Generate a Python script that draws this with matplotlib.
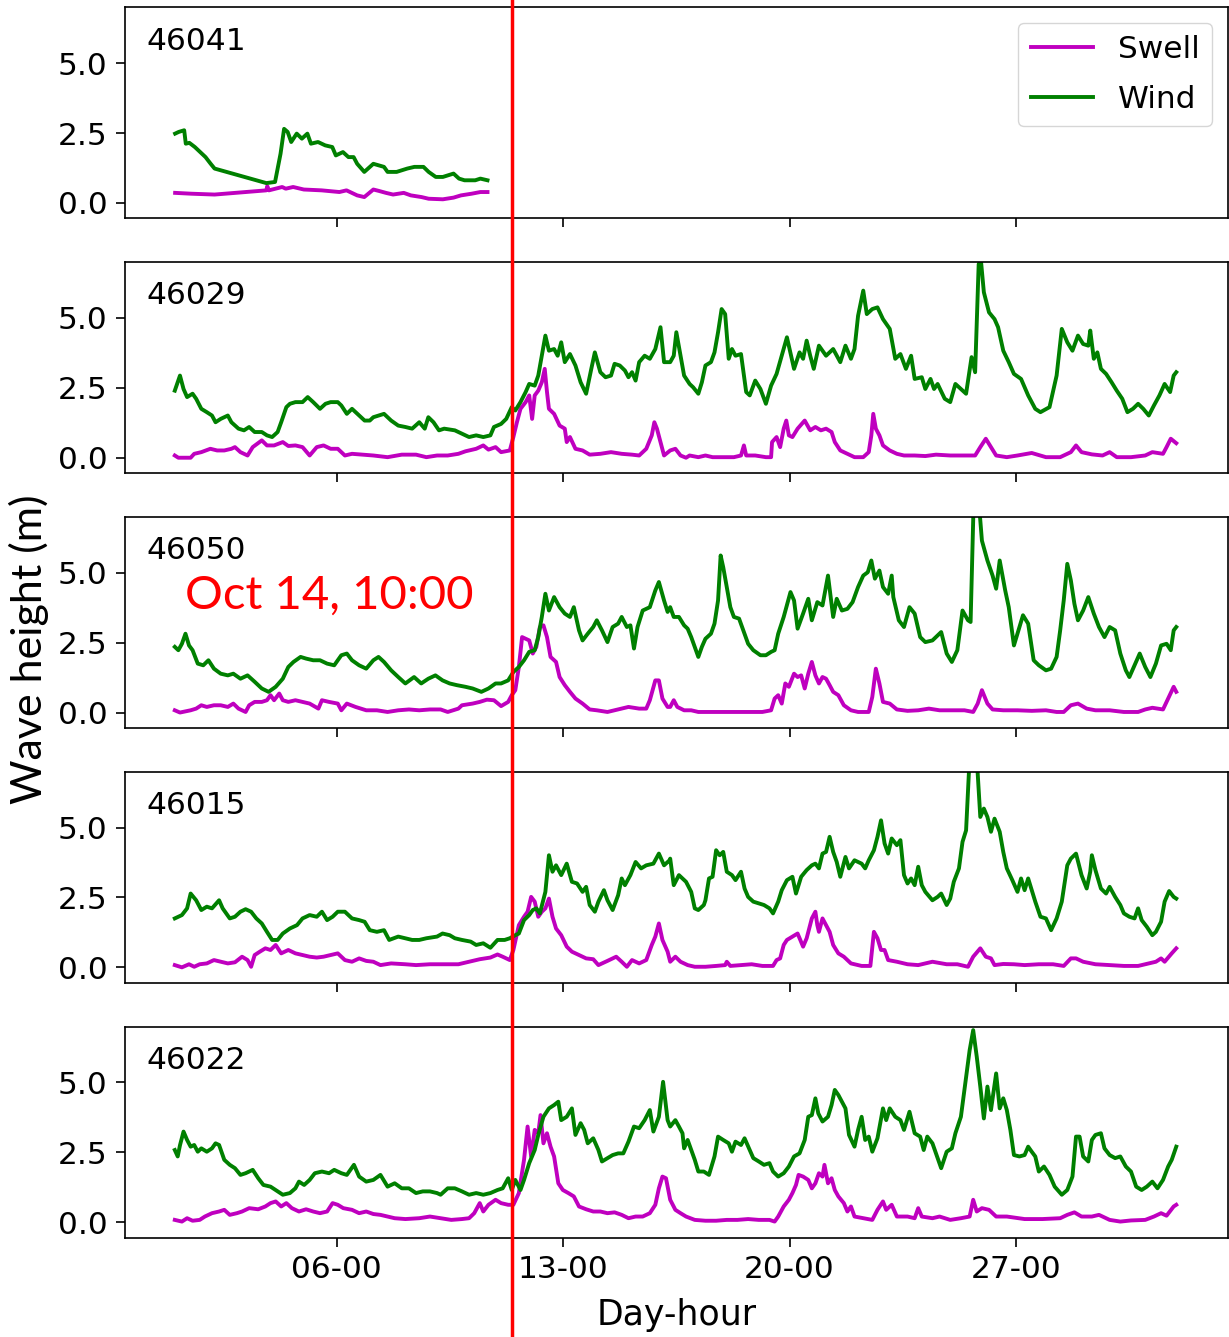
import matplotlib
matplotlib.use("Agg")
import matplotlib.pyplot as plt
from matplotlib.lines import Line2D
from matplotlib.transforms import blended_transform_factory

# ---------------------------------------------------------------------------
# Data: (day of month, significant wave height in m) for each buoy
# ---------------------------------------------------------------------------
stations = ["46041", "46029", "46050", "46015", "46022"]

swell_46041 = [(1.00, 0.36), (1.50, 0.33), (2.22, 0.30), (3.82, 0.45), (3.85, 0.60), (3.90, 0.45),
               (4.31, 0.57), (4.42, 0.51), (4.65, 0.57), (4.98, 0.48), (5.53, 0.45), (6.08, 0.39),
               (6.30, 0.45), (6.63, 0.27), (6.85, 0.21), (7.13, 0.48), (7.30, 0.43), (7.52, 0.36),
               (7.74, 0.30), (8.07, 0.36), (8.29, 0.27), (8.62, 0.21), (8.84, 0.15), (9.28, 0.13),
               (9.61, 0.19), (9.84, 0.27), (10.17, 0.33), (10.44, 0.39), (10.66, 0.39)]
wind_46041 = [(1.00, 2.48), (1.11, 2.54), (1.28, 2.60), (1.33, 2.12), (1.44, 2.15), (1.61, 2.00),
              (1.72, 1.88), (1.83, 1.76), (1.94, 1.64), (2.10, 1.40), (2.22, 1.23), (3.82, 0.71),
              (4.09, 0.75), (4.26, 1.76), (4.37, 2.65), (4.48, 2.54), (4.59, 2.18), (4.76, 2.48),
              (4.92, 2.30), (5.09, 2.48), (5.20, 2.12), (5.42, 2.18), (5.64, 2.06), (5.86, 2.00),
              (5.97, 1.70), (6.19, 1.82), (6.36, 1.64), (6.52, 1.64), (6.63, 1.40), (6.85, 1.11),
              (7.13, 1.40), (7.46, 1.29), (7.57, 1.11), (7.85, 1.11), (8.18, 1.23), (8.40, 1.29),
              (8.68, 1.29), (8.84, 1.11), (9.06, 0.93), (9.28, 0.93), (9.61, 1.05), (9.78, 0.87),
              (9.95, 0.81), (10.28, 0.81), (10.44, 0.87), (10.66, 0.81)]

swell_46029 = [(0.99, 0.08), (1.10, 0.00), (1.48, 0.00), (1.59, 0.14), (1.81, 0.20), (2.09, 0.32),
               (2.30, 0.26), (2.52, 0.26), (2.74, 0.32), (2.85, 0.38), (3.02, 0.20), (3.24, 0.08),
               (3.40, 0.38), (3.68, 0.62), (3.84, 0.44), (4.06, 0.44), (4.33, 0.56), (4.50, 0.42),
               (4.72, 0.44), (4.94, 0.38), (5.16, 0.08), (5.38, 0.38), (5.59, 0.44), (5.81, 0.32),
               (6.03, 0.32), (6.25, 0.08), (6.47, 0.14), (6.80, 0.11), (7.13, 0.08), (7.57, 0.02),
               (8.01, 0.11), (8.45, 0.11), (8.77, 0.02), (9.10, 0.08), (9.43, 0.08), (9.76, 0.14),
               (9.98, 0.23), (10.31, 0.32), (10.53, 0.44), (10.69, 0.29), (10.91, 0.38), (11.08, 0.20),
               (11.35, 0.26), (11.46, 0.74), (11.57, 1.27), (11.68, 1.75), (11.84, 1.99), (11.95, 2.23),
               (12.04, 1.39), (12.12, 2.23), (12.23, 2.40), (12.34, 2.70), (12.43, 3.18), (12.50, 2.35),
               (12.56, 1.75), (12.72, 1.57), (12.89, 1.15), (13.05, 1.04), (13.11, 0.56), (13.21, 0.74),
               (13.38, 0.32), (13.60, 0.26), (13.82, 0.11), (14.15, 0.14), (14.48, 0.20), (14.81, 0.14),
               (15.13, 0.11), (15.35, 0.08), (15.57, 0.32), (15.74, 0.80), (15.82, 1.27), (15.90, 1.04),
               (16.01, 0.56), (16.12, 0.08), (16.31, 0.26), (16.47, 0.32), (16.63, 0.08), (16.80, 0.00),
               (16.91, 0.08), (17.18, 0.02), (17.40, 0.08), (17.62, 0.02), (17.95, 0.02), (18.28, 0.02),
               (18.50, 0.08), (18.59, 0.44), (18.66, 0.08), (18.94, 0.08), (19.27, 0.02), (19.43, 0.02),
               (19.46, 0.56), (19.60, 0.74), (19.71, 0.38), (19.82, 1.04), (19.90, 1.33), (19.98, 0.80),
               (20.09, 0.74), (20.25, 1.04), (20.47, 1.33), (20.64, 0.98), (20.80, 1.10), (20.97, 0.98),
               (21.13, 1.04), (21.30, 0.92), (21.40, 0.56), (21.57, 0.26), (21.79, 0.14), (22.01, 0.02),
               (22.28, 0.02), (22.45, 0.20), (22.53, 0.80), (22.59, 1.57), (22.67, 1.04), (22.78, 0.80),
               (22.89, 0.44), (23.10, 0.26), (23.32, 0.14), (23.54, 0.08), (23.87, 0.08), (24.20, 0.06),
               (24.53, 0.11), (24.97, 0.08), (25.41, 0.08), (25.74, 0.08), (25.90, 0.38), (26.07, 0.68),
               (26.23, 0.38), (26.39, 0.08), (26.72, 0.02), (27.05, 0.08), (27.49, 0.17), (27.93, 0.02),
               (28.37, 0.02), (28.70, 0.20), (28.86, 0.44), (29.03, 0.20), (29.35, 0.12), (29.68, 0.08),
               (29.90, 0.20), (30.12, 0.02), (30.56, 0.02), (31.00, 0.08), (31.22, 0.20), (31.55, 0.14),
               (31.66, 0.38), (31.79, 0.68), (31.96, 0.52)]
wind_46029 = [(0.99, 2.40), (1.15, 2.94), (1.26, 2.46), (1.37, 2.17), (1.54, 2.29), (1.65, 2.11),
              (1.81, 1.75), (1.98, 1.63), (2.14, 1.51), (2.25, 1.27), (2.41, 1.39), (2.63, 1.51),
              (2.74, 1.27), (2.96, 1.04), (3.13, 0.98), (3.29, 1.10), (3.46, 0.92), (3.68, 0.92),
              (3.84, 0.80), (4.00, 0.74), (4.17, 0.92), (4.28, 1.27), (4.44, 1.81), (4.55, 1.93),
              (4.72, 1.99), (4.94, 1.99), (5.10, 2.17), (5.27, 1.99), (5.48, 1.75), (5.65, 1.93),
              (5.81, 1.99), (6.03, 1.99), (6.14, 1.87), (6.31, 1.57), (6.47, 1.75), (6.69, 1.51),
              (6.86, 1.33), (7.02, 1.33), (7.13, 1.45), (7.46, 1.57), (7.68, 1.33), (7.90, 1.15),
              (8.12, 1.10), (8.33, 1.04), (8.55, 1.27), (8.72, 1.04), (8.83, 1.45), (8.99, 1.27),
              (9.16, 0.98), (9.32, 1.04), (9.65, 0.98), (9.87, 0.86), (10.09, 0.74), (10.31, 0.80),
              (10.53, 0.74), (10.75, 0.80), (10.86, 1.10), (11.08, 1.21), (11.24, 1.39), (11.41, 1.81),
              (11.52, 1.69), (11.68, 1.99), (11.84, 2.35), (11.95, 2.64), (12.12, 2.58), (12.23, 2.94),
              (12.34, 3.65), (12.45, 4.37), (12.56, 3.83), (12.72, 3.89), (12.83, 3.65), (12.94, 4.13),
              (13.05, 3.42), (13.21, 3.71), (13.38, 3.30), (13.54, 2.70), (13.71, 2.29), (13.87, 3.18),
              (13.98, 3.77), (14.15, 3.06), (14.31, 2.88), (14.48, 2.94), (14.59, 3.36), (14.75, 3.30),
              (14.91, 3.12), (15.02, 2.88), (15.13, 3.06), (15.24, 2.76), (15.35, 3.42), (15.52, 3.65),
              (15.68, 3.54), (15.85, 3.89), (16.01, 4.67), (16.12, 3.42), (16.23, 3.42), (16.31, 3.42),
              (16.42, 3.65), (16.50, 4.49), (16.63, 3.65), (16.74, 2.94), (16.91, 2.64), (17.02, 2.52),
              (17.18, 2.29), (17.29, 2.70), (17.40, 3.30), (17.57, 3.42), (17.68, 3.77), (17.79, 4.49),
              (17.90, 5.32), (18.01, 5.14), (18.12, 3.54), (18.22, 3.89), (18.33, 3.65), (18.50, 3.71),
              (18.66, 2.35), (18.77, 2.23), (18.94, 2.76), (19.10, 2.46), (19.27, 1.93), (19.43, 2.58),
              (19.60, 3.00), (19.76, 3.65), (19.92, 4.31), (20.14, 3.18), (20.31, 3.77), (20.42, 3.54),
              (20.53, 4.19), (20.64, 3.65), (20.75, 3.18), (20.91, 4.01), (21.13, 3.65), (21.35, 3.89),
              (21.57, 3.42), (21.73, 4.01), (21.90, 3.54), (22.01, 3.89), (22.12, 5.08), (22.28, 5.98),
              (22.39, 5.14), (22.56, 5.32), (22.72, 5.38), (22.89, 4.96), (23.10, 4.61), (23.27, 3.54),
              (23.43, 3.71), (23.60, 3.18), (23.76, 3.65), (23.87, 2.82), (24.09, 2.88), (24.20, 2.46),
              (24.36, 2.82), (24.47, 2.46), (24.58, 2.64), (24.80, 2.11), (24.97, 1.99), (25.13, 2.64),
              (25.30, 2.46), (25.46, 2.29), (25.63, 3.60), (25.74, 3.06), (25.85, 6.93), (25.92, 7.05),
              (26.01, 5.92), (26.17, 5.20), (26.34, 4.96), (26.45, 4.67), (26.61, 3.83), (26.78, 3.42),
              (26.94, 3.00), (27.16, 2.82), (27.38, 2.23), (27.60, 1.75), (27.76, 1.63), (28.04, 1.81),
              (28.26, 2.94), (28.42, 4.61), (28.59, 4.13), (28.75, 3.83), (28.92, 4.37), (29.08, 4.07),
              (29.24, 4.01), (29.30, 4.55), (29.41, 3.54), (29.52, 3.77), (29.63, 3.18), (29.79, 3.00),
              (29.96, 2.70), (30.12, 2.40), (30.29, 2.11), (30.45, 1.63), (30.62, 1.75), (30.78, 1.93),
              (30.94, 1.75), (31.11, 1.51), (31.27, 1.87), (31.44, 2.23), (31.60, 2.64), (31.77, 2.35),
              (31.88, 2.94), (31.96, 3.06)]

swell_46050 = [(0.99, 0.08), (1.15, 0.00), (1.48, 0.08), (1.65, 0.14), (1.81, 0.26), (1.98, 0.20),
               (2.20, 0.26), (2.41, 0.26), (2.63, 0.20), (2.80, 0.32), (2.96, 0.14), (3.18, 0.02),
               (3.29, 0.26), (3.46, 0.38), (3.68, 0.38), (3.84, 0.44), (3.95, 0.62), (4.06, 0.44),
               (4.22, 0.68), (4.33, 0.44), (4.50, 0.38), (4.72, 0.44), (4.94, 0.38), (5.16, 0.32),
               (5.43, 0.14), (5.54, 0.44), (5.76, 0.38), (6.03, 0.32), (6.14, 0.08), (6.31, 0.32),
               (6.58, 0.20), (6.91, 0.08), (7.24, 0.08), (7.57, 0.02), (7.90, 0.08), (8.23, 0.11),
               (8.55, 0.08), (8.88, 0.11), (9.21, 0.11), (9.43, 0.02), (9.76, 0.14), (9.87, 0.26),
               (10.20, 0.32), (10.42, 0.38), (10.64, 0.46), (10.86, 0.44), (11.08, 0.23), (11.30, 0.38),
               (11.41, 0.62), (11.52, 0.80), (11.63, 1.63), (11.73, 2.70), (11.84, 2.64), (11.95, 2.58),
               (12.06, 2.11), (12.17, 2.35), (12.28, 3.06), (12.39, 3.12), (12.50, 2.70), (12.61, 1.99),
               (12.78, 1.81), (12.89, 1.27), (13.05, 0.98), (13.21, 0.74), (13.38, 0.50), (13.60, 0.32),
               (13.82, 0.11), (14.04, 0.08), (14.37, 0.02), (14.70, 0.11), (15.02, 0.20), (15.35, 0.14),
               (15.57, 0.14), (15.68, 0.44), (15.85, 1.15), (15.96, 1.15), (16.07, 0.50), (16.23, 0.20),
               (16.31, 0.20), (16.42, 0.44), (16.53, 0.20), (16.74, 0.08), (16.96, 0.08), (17.18, 0.02),
               (17.40, 0.02), (17.73, 0.02), (18.06, 0.02), (18.39, 0.02), (18.72, 0.02), (19.16, 0.02),
               (19.43, 0.08), (19.54, 0.50), (19.65, 0.62), (19.76, 0.32), (19.87, 1.04), (19.98, 0.92),
               (20.14, 1.39), (20.25, 1.27), (20.36, 1.33), (20.47, 0.86), (20.58, 1.39), (20.69, 1.81),
               (20.80, 1.33), (20.91, 1.04), (21.02, 1.27), (21.13, 1.21), (21.24, 0.98), (21.35, 0.74),
               (21.51, 0.62), (21.68, 0.26), (21.90, 0.08), (22.12, 0.02), (22.45, 0.02), (22.56, 0.56),
               (22.67, 1.57), (22.78, 1.04), (22.89, 0.38), (23.10, 0.32), (23.32, 0.11), (23.65, 0.06),
               (23.98, 0.08), (24.31, 0.14), (24.64, 0.08), (24.97, 0.08), (25.41, 0.08), (25.68, 0.02),
               (25.82, 0.32), (25.95, 0.80), (26.12, 0.32), (26.28, 0.11), (26.61, 0.08), (27.05, 0.08),
               (27.49, 0.06), (27.93, 0.08), (28.26, 0.02), (28.48, 0.02), (28.70, 0.26), (28.92, 0.32),
               (29.19, 0.14), (29.46, 0.08), (29.90, 0.08), (30.34, 0.02), (30.78, 0.02), (31.00, 0.11),
               (31.22, 0.17), (31.55, 0.11), (31.71, 0.50), (31.88, 0.92), (31.96, 0.74)]
wind_46050 = [(0.99, 2.35), (1.10, 2.23), (1.21, 2.46), (1.32, 2.82), (1.43, 2.40), (1.54, 2.23),
              (1.70, 1.75), (1.87, 1.69), (2.03, 1.87), (2.20, 1.57), (2.41, 1.39), (2.63, 1.33),
              (2.80, 1.39), (3.02, 1.21), (3.24, 1.33), (3.46, 1.10), (3.68, 0.86), (3.89, 0.74),
              (4.11, 0.92), (4.33, 1.21), (4.50, 1.63), (4.66, 1.81), (4.88, 1.99), (5.05, 1.93),
              (5.27, 1.87), (5.48, 1.87), (5.70, 1.75), (5.92, 1.69), (6.14, 2.05), (6.31, 2.11),
              (6.47, 1.87), (6.69, 1.69), (6.91, 1.57), (7.13, 1.87), (7.29, 1.99), (7.46, 1.81),
              (7.68, 1.51), (7.90, 1.27), (8.12, 1.04), (8.39, 1.27), (8.61, 1.04), (8.83, 1.21),
              (9.05, 1.33), (9.27, 1.15), (9.49, 1.04), (9.71, 0.98), (9.98, 0.92), (10.20, 0.86),
              (10.47, 0.74), (10.69, 0.86), (10.91, 1.04), (11.08, 1.04), (11.30, 1.15), (11.46, 1.45),
              (11.63, 1.63), (11.79, 1.87), (11.95, 2.17), (12.12, 2.23), (12.23, 2.70), (12.34, 3.42),
              (12.45, 4.25), (12.56, 3.65), (12.72, 4.13), (12.89, 3.77), (13.05, 3.54), (13.21, 3.42),
              (13.33, 3.77), (13.49, 2.94), (13.60, 2.58), (13.76, 2.82), (13.93, 3.06), (14.04, 3.30),
              (14.20, 2.94), (14.37, 2.52), (14.53, 3.06), (14.70, 3.18), (14.81, 3.42), (14.97, 3.06),
              (15.08, 3.12), (15.19, 2.29), (15.30, 3.06), (15.46, 3.65), (15.68, 3.77), (15.85, 4.37),
              (15.96, 4.67), (16.12, 4.01), (16.23, 3.60), (16.31, 3.77), (16.42, 3.42), (16.58, 3.42),
              (16.74, 3.12), (16.85, 3.00), (16.96, 2.70), (17.07, 2.35), (17.18, 1.99), (17.29, 2.35),
              (17.40, 2.64), (17.57, 2.82), (17.68, 3.18), (17.79, 4.01), (17.87, 5.62), (17.95, 5.20),
              (18.06, 4.49), (18.17, 3.77), (18.28, 3.42), (18.44, 3.36), (18.61, 2.82), (18.72, 2.46),
              (18.88, 2.23), (19.10, 2.05), (19.27, 2.05), (19.43, 2.17), (19.54, 2.23), (19.65, 2.82),
              (19.82, 3.42), (20.03, 4.31), (20.14, 4.01), (20.25, 3.00), (20.42, 3.54), (20.58, 4.07),
              (20.69, 3.30), (20.86, 3.95), (21.02, 3.83), (21.19, 4.90), (21.35, 3.42), (21.46, 4.07),
              (21.62, 3.65), (21.79, 3.71), (21.95, 3.95), (22.12, 4.49), (22.28, 4.90), (22.42, 5.02),
              (22.53, 5.44), (22.64, 4.79), (22.78, 5.08), (22.89, 4.49), (23.05, 4.25), (23.16, 4.90),
              (23.21, 4.13), (23.38, 3.30), (23.54, 3.06), (23.71, 3.77), (23.87, 3.54), (24.04, 2.70),
              (24.20, 2.52), (24.42, 2.58), (24.69, 2.88), (24.86, 2.11), (25.02, 1.81), (25.19, 2.23),
              (25.35, 3.65), (25.52, 3.30), (25.60, 3.24), (25.70, 7.80), (25.85, 7.60), (25.95, 6.15),
              (26.12, 5.44), (26.28, 4.90), (26.39, 4.43), (26.50, 5.44), (26.67, 4.37), (26.78, 3.77),
              (26.94, 2.40), (27.11, 3.06), (27.22, 3.48), (27.38, 3.18), (27.55, 1.87), (27.71, 1.69),
              (27.93, 1.51), (28.09, 1.57), (28.26, 1.99), (28.37, 2.94), (28.48, 4.01), (28.59, 5.32),
              (28.70, 4.73), (28.81, 3.89), (28.92, 3.30), (29.08, 3.65), (29.24, 4.13), (29.41, 3.54),
              (29.57, 3.06), (29.74, 2.70), (29.90, 3.06), (30.07, 2.94), (30.23, 2.11), (30.40, 1.51),
              (30.51, 1.27), (30.67, 1.69), (30.83, 2.11), (31.00, 1.63), (31.16, 1.27), (31.33, 1.75),
              (31.49, 2.40), (31.66, 2.46), (31.79, 2.23), (31.88, 2.94), (31.96, 3.06)]

swell_46015 = [(0.99, 0.08), (1.21, 0.00), (1.43, 0.11), (1.59, 0.02), (1.76, 0.11), (1.98, 0.14),
               (2.20, 0.26), (2.41, 0.20), (2.63, 0.14), (2.85, 0.18), (3.07, 0.38), (3.24, 0.26),
               (3.35, 0.02), (3.46, 0.44), (3.62, 0.56), (3.79, 0.68), (3.95, 0.62), (4.11, 0.80),
               (4.28, 0.50), (4.50, 0.62), (4.72, 0.50), (4.94, 0.44), (5.16, 0.38), (5.38, 0.35),
               (5.59, 0.38), (5.81, 0.44), (6.03, 0.50), (6.25, 0.26), (6.47, 0.20), (6.69, 0.32),
               (6.91, 0.23), (7.13, 0.20), (7.35, 0.08), (7.68, 0.14), (8.12, 0.11), (8.45, 0.08),
               (8.88, 0.11), (9.32, 0.11), (9.76, 0.11), (10.09, 0.20), (10.42, 0.29), (10.75, 0.35),
               (10.97, 0.46), (11.13, 0.38), (11.35, 0.26), (11.46, 0.62), (11.63, 1.51), (11.79, 1.81),
               (11.90, 1.99), (12.01, 2.52), (12.12, 2.35), (12.23, 1.81), (12.34, 1.99), (12.45, 2.11),
               (12.56, 2.46), (12.67, 1.81), (12.78, 1.39), (12.94, 1.15), (13.11, 0.74), (13.27, 0.56),
               (13.49, 0.44), (13.71, 0.32), (13.93, 0.29), (14.09, 0.08), (14.37, 0.23), (14.64, 0.38),
               (14.81, 0.20), (14.97, 0.02), (15.13, 0.26), (15.35, 0.14), (15.57, 0.26), (15.74, 0.80),
               (15.85, 1.10), (15.96, 1.57), (16.07, 0.98), (16.23, 0.56), (16.31, 0.20), (16.47, 0.38),
               (16.63, 0.20), (16.85, 0.08), (17.07, 0.02), (17.40, 0.02), (17.73, 0.05), (18.01, 0.08),
               (18.06, 0.20), (18.17, 0.05), (18.50, 0.08), (18.83, 0.11), (19.16, 0.05), (19.49, 0.05),
               (19.60, 0.26), (19.71, 0.32), (19.82, 0.80), (19.92, 0.98), (20.09, 1.10), (20.25, 1.21),
               (20.42, 0.74), (20.53, 1.04), (20.69, 1.75), (20.80, 1.99), (20.86, 1.51), (20.91, 1.27),
               (21.02, 1.75), (21.13, 1.51), (21.24, 1.27), (21.35, 0.80), (21.51, 0.50), (21.68, 0.38),
               (21.90, 0.14), (22.23, 0.05), (22.50, 0.05), (22.61, 1.27), (22.72, 1.04), (22.83, 0.62),
               (22.94, 0.62), (23.05, 0.26), (23.32, 0.20), (23.65, 0.11), (23.98, 0.08), (24.42, 0.20),
               (24.86, 0.11), (25.19, 0.11), (25.52, 0.02), (25.68, 0.38), (25.90, 0.68), (26.07, 0.38),
               (26.23, 0.32), (26.34, 0.08), (26.61, 0.12), (26.94, 0.11), (27.27, 0.08), (27.71, 0.11),
               (28.15, 0.11), (28.48, 0.05), (28.70, 0.32), (28.86, 0.32), (29.08, 0.20), (29.46, 0.11),
               (29.90, 0.08), (30.34, 0.05), (30.78, 0.05), (31.11, 0.14), (31.33, 0.20), (31.49, 0.32),
               (31.60, 0.20), (31.82, 0.50), (31.96, 0.68)]
wind_46015 = [(0.99, 1.75), (1.21, 1.87), (1.37, 2.11), (1.48, 2.64), (1.65, 2.40), (1.81, 2.05),
              (1.98, 2.17), (2.14, 2.11), (2.36, 2.40), (2.47, 2.11), (2.69, 1.75), (2.85, 1.81),
              (3.02, 1.99), (3.18, 2.08), (3.35, 1.99), (3.51, 1.75), (3.68, 1.57), (3.84, 1.27),
              (4.00, 0.98), (4.17, 0.98), (4.33, 1.21), (4.55, 1.39), (4.77, 1.51), (4.94, 1.75),
              (5.16, 1.87), (5.38, 1.81), (5.54, 1.99), (5.70, 1.69), (5.87, 1.81), (6.03, 1.99),
              (6.25, 1.99), (6.47, 1.75), (6.69, 1.69), (6.86, 1.63), (7.02, 1.33), (7.24, 1.27),
              (7.46, 1.33), (7.62, 0.98), (7.90, 1.10), (8.12, 1.04), (8.33, 0.98), (8.55, 0.98),
              (8.77, 1.04), (9.10, 1.10), (9.27, 1.21), (9.49, 1.15), (9.65, 1.04), (9.87, 0.98),
              (10.14, 0.92), (10.31, 0.80), (10.53, 0.86), (10.75, 0.70), (10.97, 0.98), (11.19, 0.98),
              (11.35, 1.04), (11.52, 1.15), (11.63, 1.21), (11.79, 1.69), (11.95, 1.87), (12.06, 2.05),
              (12.17, 2.11), (12.28, 1.93), (12.45, 2.70), (12.56, 4.01), (12.67, 3.42), (12.78, 3.65),
              (12.94, 3.30), (13.11, 3.71), (13.27, 3.06), (13.43, 3.00), (13.60, 2.70), (13.71, 2.88),
              (13.82, 2.23), (13.98, 1.99), (14.09, 2.35), (14.26, 2.76), (14.37, 2.40), (14.53, 2.05),
              (14.70, 2.58), (14.81, 3.18), (14.91, 2.94), (15.08, 3.30), (15.24, 3.77), (15.41, 3.54),
              (15.57, 3.65), (15.79, 3.71), (15.96, 4.07), (16.12, 3.65), (16.29, 3.83), (16.31, 3.89),
              (16.42, 2.94), (16.58, 3.30), (16.69, 3.18), (16.80, 3.06), (16.96, 2.70), (17.07, 2.11),
              (17.18, 2.05), (17.35, 2.23), (17.40, 2.40), (17.51, 3.18), (17.62, 3.24), (17.73, 4.19),
              (17.84, 4.01), (17.95, 4.13), (18.06, 3.42), (18.22, 3.30), (18.33, 3.12), (18.50, 3.42),
              (18.61, 2.82), (18.72, 2.52), (18.88, 2.35), (19.05, 2.29), (19.21, 2.23), (19.38, 2.11),
              (19.49, 1.93), (19.65, 2.35), (19.76, 2.76), (19.92, 3.12), (20.09, 3.24), (20.20, 2.64),
              (20.36, 3.24), (20.53, 3.48), (20.69, 3.65), (20.80, 3.71), (20.91, 3.54), (21.02, 4.07),
              (21.13, 4.13), (21.24, 4.67), (21.35, 4.13), (21.46, 3.77), (21.57, 3.24), (21.73, 3.95),
              (21.84, 3.54), (22.01, 3.83), (22.23, 3.71), (22.34, 3.54), (22.45, 3.83), (22.61, 4.19),
              (22.72, 4.67), (22.83, 5.26), (22.94, 4.43), (23.05, 4.07), (23.16, 4.61), (23.32, 4.37),
              (23.43, 4.55), (23.54, 3.30), (23.65, 3.00), (23.76, 3.18), (23.87, 2.94), (23.98, 3.60),
              (24.09, 2.94), (24.20, 2.70), (24.42, 2.40), (24.58, 2.52), (24.69, 2.64), (24.86, 2.23),
              (24.97, 2.46), (25.08, 3.06), (25.24, 3.54), (25.35, 4.49), (25.46, 4.90), (25.57, 7.50),
              (25.79, 7.50), (25.90, 5.38), (26.01, 5.68), (26.12, 5.38), (26.23, 4.85), (26.34, 5.32),
              (26.50, 4.85), (26.61, 4.13), (26.72, 3.54), (26.89, 3.12), (27.05, 2.70), (27.16, 3.18),
              (27.27, 2.76), (27.38, 3.18), (27.49, 2.76), (27.60, 2.35), (27.76, 1.81), (27.93, 1.75),
              (28.09, 1.33), (28.26, 1.75), (28.42, 2.35), (28.59, 3.65), (28.70, 3.89), (28.86, 4.07),
              (29.03, 3.30), (29.19, 2.82), (29.30, 3.42), (29.35, 4.01), (29.46, 3.48), (29.63, 2.82),
              (29.79, 2.64), (29.90, 2.88), (30.07, 2.52), (30.23, 2.23), (30.34, 1.93), (30.51, 1.81),
              (30.67, 1.75), (30.78, 2.11), (30.89, 1.69), (31.05, 1.45), (31.22, 1.15), (31.33, 1.27),
              (31.49, 1.63), (31.60, 2.35), (31.74, 2.73), (31.88, 2.52), (31.96, 2.46)]

swell_46022 = [(0.99, 0.08), (1.21, 0.02), (1.37, 0.14), (1.54, 0.05), (1.76, 0.08), (1.92, 0.20),
               (2.14, 0.32), (2.36, 0.38), (2.52, 0.44), (2.69, 0.26), (2.91, 0.32), (3.07, 0.38),
               (3.29, 0.50), (3.57, 0.46), (3.79, 0.56), (3.95, 0.68), (4.11, 0.74), (4.28, 0.56),
               (4.44, 0.68), (4.61, 0.50), (4.83, 0.38), (5.05, 0.46), (5.27, 0.38), (5.48, 0.32),
               (5.70, 0.38), (5.87, 0.68), (6.03, 0.62), (6.20, 0.50), (6.47, 0.44), (6.69, 0.32),
               (6.91, 0.38), (7.13, 0.29), (7.35, 0.26), (7.57, 0.20), (7.79, 0.14), (8.12, 0.11),
               (8.55, 0.14), (8.88, 0.20), (9.21, 0.14), (9.54, 0.08), (9.87, 0.11), (10.09, 0.14),
               (10.25, 0.32), (10.42, 0.68), (10.53, 0.38), (10.69, 0.62), (10.91, 0.80), (11.08, 0.68),
               (11.30, 0.62), (11.46, 0.62), (11.63, 1.04), (11.79, 2.23), (11.90, 3.42), (12.01, 2.35),
               (12.12, 3.30), (12.23, 3.18), (12.30, 3.83), (12.39, 2.82), (12.50, 3.18), (12.61, 2.70),
               (12.72, 2.35), (12.85, 1.39), (12.99, 1.15), (13.16, 1.04), (13.33, 0.92), (13.49, 0.56),
               (13.71, 0.46), (13.93, 0.38), (14.15, 0.38), (14.37, 0.32), (14.59, 0.35), (14.81, 0.26),
               (15.02, 0.14), (15.24, 0.20), (15.46, 0.20), (15.68, 0.32), (15.85, 0.62), (15.96, 1.21),
               (16.07, 1.63), (16.18, 1.57), (16.29, 0.92), (16.31, 0.80), (16.47, 0.44), (16.63, 0.32),
               (16.80, 0.20), (17.07, 0.08), (17.40, 0.05), (17.73, 0.05), (18.06, 0.08), (18.39, 0.08),
               (18.72, 0.11), (19.05, 0.08), (19.38, 0.08), (19.54, 0.02), (19.65, 0.20), (19.82, 0.56),
               (19.98, 0.80), (20.09, 1.04), (20.20, 1.33), (20.28, 1.69), (20.42, 1.63), (20.58, 1.51),
               (20.69, 1.21), (20.80, 1.39), (20.91, 1.75), (21.02, 1.63), (21.08, 2.05), (21.19, 1.39),
               (21.30, 1.57), (21.40, 1.15), (21.51, 0.92), (21.68, 0.68), (21.79, 0.38), (21.90, 0.56),
               (22.01, 0.20), (22.28, 0.14), (22.56, 0.08), (22.72, 0.44), (22.89, 0.74), (22.99, 0.44),
               (23.16, 0.62), (23.32, 0.20), (23.65, 0.20), (23.87, 0.14), (23.98, 0.50), (24.09, 0.20),
               (24.42, 0.14), (24.64, 0.20), (24.97, 0.08), (25.30, 0.14), (25.57, 0.20), (25.68, 0.80),
               (25.79, 0.38), (25.95, 0.50), (26.17, 0.44), (26.39, 0.20), (26.72, 0.20), (27.27, 0.11),
               (27.82, 0.11), (28.37, 0.14), (28.59, 0.26), (28.81, 0.35), (29.03, 0.20), (29.35, 0.20),
               (29.57, 0.26), (29.90, 0.08), (30.23, 0.02), (30.56, 0.06), (31.00, 0.08), (31.27, 0.20),
               (31.49, 0.32), (31.66, 0.23), (31.88, 0.56), (31.96, 0.62)]
wind_46022 = [(0.99, 2.58), (1.08, 2.35), (1.15, 2.75), (1.26, 3.24), (1.37, 2.94), (1.48, 2.70),
              (1.59, 2.76), (1.70, 2.52), (1.81, 2.64), (1.98, 2.52), (2.14, 2.64), (2.25, 2.82),
              (2.36, 2.76), (2.52, 2.23), (2.69, 2.05), (2.85, 1.93), (3.02, 1.69), (3.18, 1.75),
              (3.40, 1.87), (3.57, 1.57), (3.73, 1.33), (3.95, 1.27), (4.17, 1.10), (4.33, 0.98),
              (4.55, 1.04), (4.72, 1.21), (4.83, 1.45), (4.99, 1.33), (5.16, 1.51), (5.32, 1.75),
              (5.54, 1.81), (5.76, 1.75), (5.92, 1.87), (6.14, 1.75), (6.31, 1.69), (6.53, 2.05),
              (6.69, 1.63), (6.91, 1.45), (7.13, 1.51), (7.35, 1.69), (7.57, 1.27), (7.79, 1.39),
              (8.01, 1.21), (8.23, 1.21), (8.45, 1.04), (8.66, 1.10), (8.88, 1.10), (9.10, 1.04),
              (9.21, 0.98), (9.43, 1.21), (9.65, 1.21), (9.87, 1.10), (10.09, 0.98), (10.31, 1.04),
              (10.53, 0.98), (10.75, 1.04), (10.97, 1.15), (11.13, 1.21), (11.30, 1.57), (11.41, 1.15),
              (11.52, 1.51), (11.68, 1.15), (11.79, 1.51), (11.95, 2.11), (12.12, 2.58), (12.23, 3.12),
              (12.39, 3.77), (12.56, 4.07), (12.72, 4.19), (12.85, 4.31), (12.94, 3.65), (13.11, 3.77),
              (13.27, 4.07), (13.38, 3.12), (13.54, 3.54), (13.65, 3.30), (13.76, 2.82), (13.93, 3.00),
              (14.09, 2.58), (14.20, 2.17), (14.37, 2.29), (14.53, 2.40), (14.70, 2.46), (14.86, 2.46),
              (15.02, 2.88), (15.19, 3.42), (15.35, 3.36), (15.52, 3.65), (15.68, 4.01), (15.79, 3.24),
              (15.96, 3.77), (16.09, 5.02), (16.23, 3.65), (16.31, 3.42), (16.47, 3.65), (16.58, 3.42),
              (16.69, 3.18), (16.74, 2.64), (16.85, 2.94), (16.96, 2.58), (17.07, 2.23), (17.18, 1.81),
              (17.35, 1.81), (17.51, 1.69), (17.68, 2.35), (17.79, 3.06), (17.95, 2.94), (18.12, 2.82),
              (18.22, 2.52), (18.33, 2.88), (18.50, 2.76), (18.61, 3.00), (18.77, 2.58), (18.88, 2.29),
              (19.05, 2.17), (19.21, 2.05), (19.38, 2.11), (19.49, 1.81), (19.65, 1.63), (19.82, 1.75),
              (19.98, 1.99), (20.14, 2.35), (20.31, 2.46), (20.47, 2.94), (20.58, 3.77), (20.69, 3.83),
              (20.80, 4.43), (20.89, 3.89), (21.02, 3.60), (21.19, 3.77), (21.30, 4.19), (21.40, 4.73),
              (21.51, 4.55), (21.62, 4.31), (21.73, 4.07), (21.84, 3.12), (22.01, 2.70), (22.12, 3.30),
              (22.23, 3.77), (22.34, 2.94), (22.45, 3.06), (22.56, 2.52), (22.72, 3.00), (22.89, 4.07),
              (22.99, 3.65), (23.10, 4.07), (23.27, 3.77), (23.43, 3.65), (23.54, 3.30), (23.71, 3.95),
              (23.87, 3.18), (24.04, 3.06), (24.15, 2.58), (24.26, 3.06), (24.42, 2.82), (24.58, 2.29),
              (24.69, 1.93), (24.86, 2.52), (25.02, 2.64), (25.13, 3.18), (25.30, 3.77), (25.41, 4.73),
              (25.57, 6.15), (25.68, 6.87), (25.79, 5.92), (25.90, 4.85), (26.01, 3.71), (26.12, 4.85),
              (26.23, 4.01), (26.34, 4.90), (26.39, 5.32), (26.50, 4.07), (26.61, 4.43), (26.72, 4.01),
              (26.83, 3.30), (26.94, 2.40), (27.11, 2.35), (27.27, 2.40), (27.38, 2.70), (27.49, 2.52),
              (27.60, 2.35), (27.71, 1.81), (27.87, 1.99), (28.04, 1.69), (28.20, 1.27), (28.42, 0.98),
              (28.59, 1.15), (28.75, 1.63), (28.86, 3.06), (28.97, 3.06), (29.08, 2.35), (29.24, 2.17),
              (29.35, 2.94), (29.46, 3.12), (29.63, 3.18), (29.74, 2.64), (29.90, 2.40), (30.07, 2.29),
              (30.23, 2.35), (30.40, 1.99), (30.56, 1.81), (30.72, 1.27), (30.89, 1.15), (31.05, 1.27),
              (31.22, 1.45), (31.38, 1.21), (31.55, 1.51), (31.71, 1.99), (31.82, 2.23), (31.96, 2.70)]

tick_days = [6, 13, 20, 27]
tick_labels = ["06-00", "13-00", "20-00", "27-00"]
y_ticks = [0.0, 2.5, 5.0]
event_day = 11 + 10 / 24
event_label = "Oct 14, 10:00"

swell_series = [swell_46041, swell_46029, swell_46050, swell_46015, swell_46022]
wind_series = [wind_46041, wind_46029, wind_46050, wind_46015, wind_46022]

# ---------------------------------------------------------------------------
# Figure layout
# ---------------------------------------------------------------------------
plt.rcParams["font.family"] = "DejaVu Sans"
plt.rcParams["font.size"] = 22.5
plt.rcParams["axes.linewidth"] = 1.2
for k in ("xtick", "ytick"):
    plt.rcParams[f"{k}.major.size"] = 6.5
    plt.rcParams[f"{k}.major.width"] = 1.2
    plt.rcParams[f"{k}.major.pad"] = 6
    plt.rcParams[f"{k}.labelsize"] = 22.5

W, H = 1229, 1337
fig = plt.figure(figsize=(W / 100, H / 100), dpi=100)

left_px, width_px = 125, 1103
top0_px, step_px, height_px = 7.3, 254.8, 211

axes = []
for i, name in enumerate(stations):
    top = top0_px + i * step_px
    ax = fig.add_axes([left_px / W, 1 - (top + height_px) / H, width_px / W, height_px / H])
    sd, sv = zip(*swell_series[i])
    wd, wv = zip(*wind_series[i])
    ax.plot(sd, sv, color="m", lw=2.8, label="Swell")
    ax.plot(wd, wv, color="g", lw=2.8, label="Wind")
    ax.set_xlim(-0.55, 33.56)
    ax.set_ylim(-0.55, 7.0)
    ax.set_yticks(y_ticks)
    ax.set_yticklabels([f"{v:.1f}" for v in y_ticks])
    ax.set_xticks(tick_days)
    if i < len(stations) - 1:
        ax.tick_params(labelbottom=False)
    else:
        ax.set_xticklabels(tick_labels)
        ax.set_xlabel("Day-hour", fontsize=25, labelpad=10)
    ax.text(0.019, 0.80, name, transform=ax.transAxes, fontsize=22.5)
    axes.append(ax)

axes[0].legend(loc="upper right", fontsize=22.5, labelspacing=0.65)

# Event marker spanning the whole figure
trans = blended_transform_factory(axes[0].transData, fig.transFigure)
fig.add_artist(Line2D([event_day, event_day], [0, 1], transform=trans,
                      color="#ff0000", lw=2.5, zorder=10))
fig.text(185 / W, 1 - 609 / H, event_label, color="#ff0000", fontsize=34,
         family=["Lato", "DejaVu Sans"], ha="left", va="baseline")

fig.text(29 / W, 1 - 649 / H, "Wave height (m)", rotation=90, fontsize=31,
         family=["Lato", "DejaVu Sans"], ha="center", va="center")

fig.savefig("out.png", dpi=100)
